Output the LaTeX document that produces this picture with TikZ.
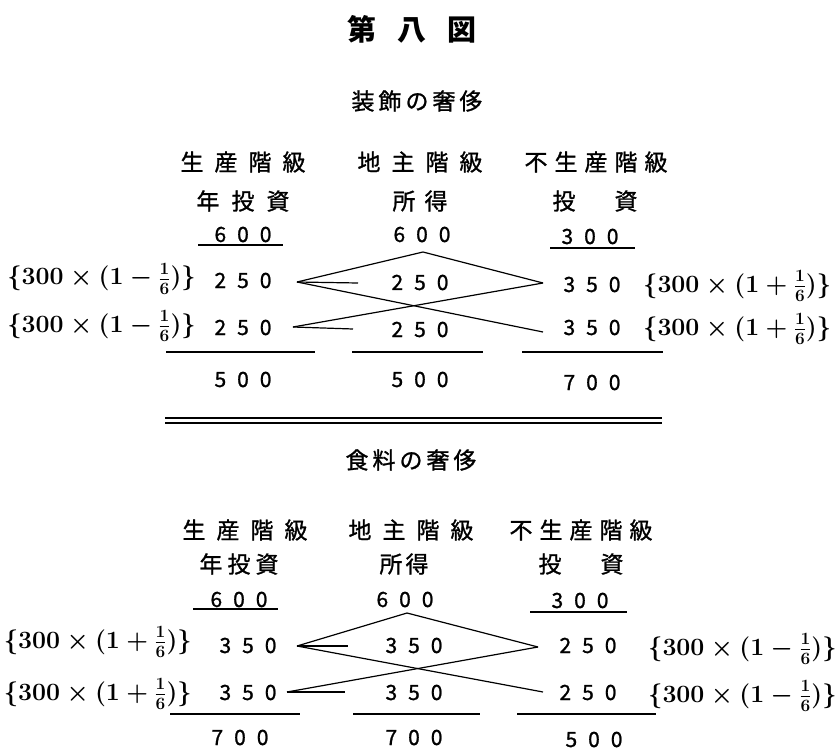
\documentclass[tikz,border=0pt]{standalone}
\usepackage{fontspec}
\newfontfamily\jp[FakeBold=1.1]{Noto Sans CJK JP}
\newfontfamily\jpb{Noto Sans CJK JP}
\newcommand\nm[3]{#1\kern11pt#2\kern11pt#3}
\newcommand\fm[1]{$\{300\times(1#1\frac{1}{6})\}$}
\begin{document}
\begin{tikzpicture}[x=1pt,y=-1pt,
  ttl/.style={inner sep=0pt, font=\jpb\bfseries\fontsize{29}{32}\selectfont},
  sub/.style={inner sep=0pt, font=\jp\fontsize{23}{26}\selectfont},
  jt/.style={inner sep=0pt, font=\jp\fontsize{23}{26}\selectfont},
  num/.style={inner sep=0pt, anchor=base, font=\jp\fontsize{21}{24}\selectfont},
  fml/.style={inner sep=0pt, font=\fontsize{24}{28}\selectfont\boldmath},
  ln/.style={line width=1.2pt},
  ul/.style={line width=1.4pt}]
\useasboundingbox[fill=white] (0,0) rectangle (835,751);

% ---------- title ----------
\node[ttl] (title) at (412,29) {第\kern21pt 八\kern21pt 図};

% ---------- top section ----------
\node[sub] (s1) at (417,101) {装\kern4pt 飾\kern4pt の\kern4pt 奢\kern4pt 侈};
\node[jt] (h11) at (243,162) {生\kern11pt 産\kern11pt 階\kern11pt 級};
\node[jt] (h12) at (420,162) {地\kern11pt 主\kern11pt 階\kern11pt 級};
\node[jt] (h13) at (596,162) {不\kern7pt 生\kern7pt 産\kern7pt 階\kern7pt 級};
\node[jt] (h21) at (243,201) {年\kern12pt 投\kern12pt 資};
\node[jt] (h22) at (420,201) {所\kern9pt 得};
\node[jt] (h23) at (595,201) {投\kern39pt 資};

\node[num] (a0) at (243,242) {\nm600};
\node[num] (b0) at (422,242) {\nm600};
\node[num] (c0) at (590,244) {\nm300};
\node[num] (a1) at (243,288) {\nm250};
\node[num] (b1) at (420,290) {\nm250};
\node[num] (c1) at (592,292) {\nm350};
\node[num] (a2) at (243,335) {\nm250};
\node[num] (b2) at (420,337) {\nm250};
\node[num] (c2) at (592,335) {\nm350};
\node[num] (a3) at (243,387) {\nm500};
\node[num] (b3) at (420,387) {\nm500};
\node[num] (c3) at (592,390) {\nm700};

\node[fml, anchor=base east] (fl1) at (196,285) {\fm{-}};
\node[fml, anchor=base east] (fl2) at (196,332) {\fm{-}};
\node[fml, anchor=base west] (fr1) at (643,292) {\fm{+}};
\node[fml, anchor=base west] (fr2) at (643,335) {\fm{+}};

\draw[ul] (198,245) -- (283,245);
\draw[ul] (550,248) -- (635,248);
\draw[ul] (166,352) -- (315,352);
\draw[ul] (352,352) -- (483,352);
\draw[ul] (522,352) -- (663,352);

\coordinate (tL1) at (297,282);
\coordinate (tL2) at (293,327);
\coordinate (tM) at (423,252);
\coordinate (tR1) at (543,283);
\coordinate (tR2) at (543,332);
\coordinate (ts1) at (358,283);
\coordinate (ts2) at (353,329);
\draw[ln] (tL1) -- (tM) -- (tR1);
\draw[ln] (tL1) -- (tR2);
\draw[ln] (tL2) -- (tR1);
\draw[ln] (tL1) -- (ts1);
\draw[ln] (tL2) -- (ts2);

% ---------- double rule ----------
\draw[ul] (165,418) -- (662,418);
\draw[ul] (165,423) -- (662,423);

% ---------- bottom section ----------
\node[sub] (s2) at (411,460) {食\kern4pt 料\kern4pt の\kern4pt 奢\kern4pt 侈};
\node[jt] (k11) at (245,530) {生\kern11pt 産\kern11pt 階\kern11pt 級};
\node[jt] (k12) at (411,530) {地\kern11pt 主\kern11pt 階\kern11pt 級};
\node[jt] (k13) at (581,530) {不\kern7pt 生\kern7pt 産\kern7pt 階\kern7pt 級};
\node[jt] (k21) at (239,564) {年\kern5pt 投\kern5pt 資};
\node[jt] (k22) at (404,564) {所\kern3pt 得};
\node[jt] (k23) at (581,564) {投\kern39pt 資};

\node[num] (d0) at (239,607) {\nm600};
\node[num] (e0) at (405,607) {\nm600};
\node[num] (f0) at (580,608) {\nm300};
\node[num] (d1) at (248,653) {\nm350};
\node[num] (e1) at (414,653) {\nm350};
\node[num] (f1) at (588,653) {\nm250};
\node[num] (d2) at (248,700) {\nm350};
\node[num] (e2) at (414,700) {\nm350};
\node[num] (f2) at (588,700) {\nm250};
\node[num] (d3) at (240,745) {\nm700};
\node[num] (e3) at (414,745) {\nm700};
\node[num] (f3) at (594,747) {\nm500};

\node[fml, anchor=base east] (gl1) at (192,648) {\fm{+}};
\node[fml, anchor=base east] (gl2) at (192,700) {\fm{+}};
\node[fml, anchor=base west] (gr1) at (648,655) {\fm{-}};
\node[fml, anchor=base west] (gr2) at (648,702) {\fm{-}};

\draw[ul] (193,609) -- (278,609);
\draw[ul] (530,612) -- (627,612);
\draw[ul] (170,714) -- (300,714);
\draw[ul] (353,714) -- (480,714);
\draw[ul] (517,714) -- (656,714);

\coordinate (bL1) at (297,646);
\coordinate (bL2) at (287,692);
\coordinate (bM) at (407,613);
\coordinate (bR1) at (538,647);
\coordinate (bR2) at (543,692);
\coordinate (bs1) at (348,646);
\coordinate (bs2) at (345,692);
\draw[ln] (bL1) -- (bM) -- (bR1);
\draw[ln] (bL1) -- (bR2);
\draw[ln] (bL2) -- (bR1);
\draw[ln] (bL1) -- (bs1);
\draw[ln] (bL2) -- (bs2);
\end{tikzpicture}
\end{document}
